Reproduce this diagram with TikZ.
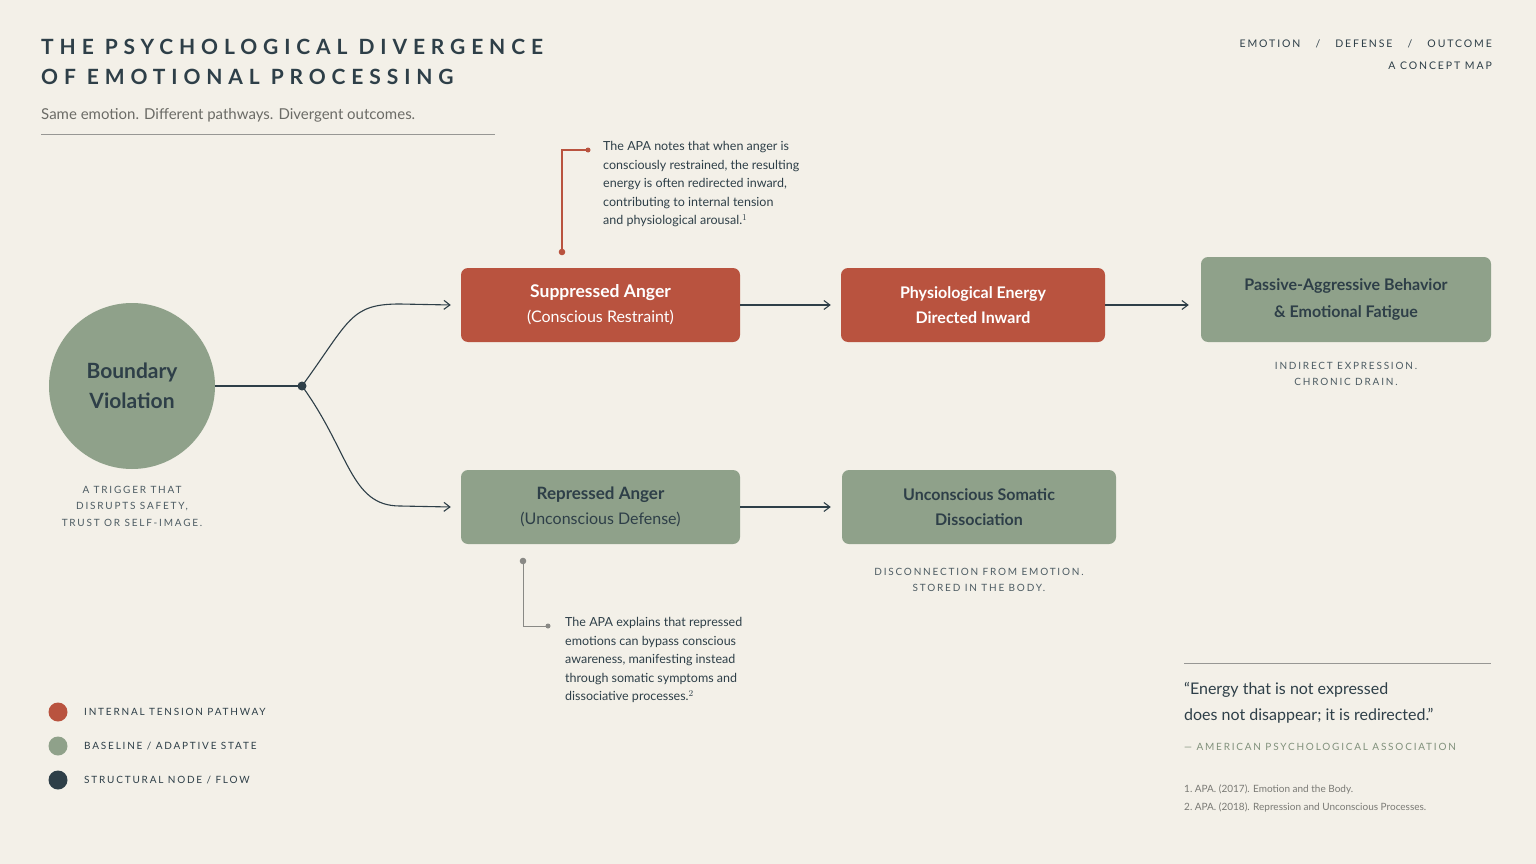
\documentclass[tikz,border=0pt]{standalone}
\usepackage{fontspec}
\setmainfont{Lato}
\newfontfamily\spaced[LetterSpace=28]{Lato}
\newfontfamily\capsp[LetterSpace=18]{Lato}
\usetikzlibrary{arrows.meta}
\definecolor{bg}{HTML}{F3F0E8}
\definecolor{rd}{HTML}{B9533F}
\definecolor{sg}{HTML}{8FA18A}
\definecolor{dk}{HTML}{2E3F48}
\definecolor{gy}{HTML}{6B6B66}
\begin{document}
\begin{tikzpicture}[x=1pt,y=-1pt,
 box/.style={rounded corners=7pt,inner sep=0pt,align=center},
 redbox/.style={box,fill=rd,text=white},
 sgbox/.style={box,fill=sg,text=dk},
 captxt/.style={font=\capsp\fontsize{10}{16.5}\selectfont,text=dk!85,align=center},
 note/.style={font=\fontsize{12.5}{18.6}\selectfont,text=dk,align=left,anchor=north west,inner sep=0pt},
 flow/.style={draw=dk,line width=1.1pt,-{Straight Barb[length=6pt,width=9pt]}},
 leg/.style={font=\capsp\fontsize{10}{12}\selectfont,text=dk,anchor=west,inner sep=0pt}]
\fill[bg] (0,0) rectangle (1536,864);
\useasboundingbox (0,0) rectangle (1536,864);
% title
\node[anchor=west,inner sep=0pt,text=dk,font=\spaced\bfseries\fontsize{21}{30}\selectfont] (t1) at (41,47) {THE PSYCHOLOGICAL DIVERGENCE};
\node[anchor=west,inner sep=0pt,text=dk,font=\spaced\bfseries\fontsize{21}{30}\selectfont] (t2) at (41,77) {OF EMOTIONAL PROCESSING};
\node[anchor=west,inner sep=0pt,text=gy,font=\fontsize{15}{18}\selectfont] (sub) at (41,115) {Same emotion. Different pathways. Divergent outcomes.};
\draw[gy!70,line width=0.8pt] (41,134) -- (495,134);
\node[anchor=east,inner sep=0pt,text=dk,font=\capsp\fontsize{10.5}{12}\selectfont] (tr1) at (1492,44) {EMOTION\quad\ /\quad\ DEFENSE\quad\ /\quad\ OUTCOME};
\node[anchor=east,inner sep=0pt,text=dk,font=\capsp\fontsize{10.5}{12}\selectfont] (tr2) at (1492,66) {A CONCEPT MAP};
% circle
\node[circle,fill=sg,minimum size=166pt,inner sep=0pt,text=dk,align=center,font=\bfseries\fontsize{21}{30}\selectfont] (bv) at (132,386) {Boundary\\Violation};
\node[captxt] (bvc) at (132,506) {A TRIGGER THAT\\DISRUPTS SAFETY,\\TRUST OR SELF-IMAGE.};
\coordinate (j) at (302,386);
\draw[dk,line width=1.1pt] (bv.east) -- (j);
\fill[dk] (j) circle (4.5pt);
% boxes
\node[redbox,minimum width=279pt,minimum height=74pt,font=\fontsize{17.5}{25}\selectfont] (sa) at (600.5,305) {\bfseries Suppressed Anger\\\fontsize{16}{25}\selectfont (Conscious Restraint)};
\node[redbox,minimum width=264pt,minimum height=74pt,font=\bfseries\fontsize{16}{25}\selectfont] (pe) at (973,305) {Physiological Energy\\Directed Inward};
\node[sgbox,minimum width=290pt,minimum height=85pt,font=\bfseries\fontsize{16}{27}\selectfont] (pa) at (1346,299.5) {Passive-Aggressive Behavior\\\& Emotional Fatigue};
\node[captxt] (pac) at (1346,374) {INDIRECT EXPRESSION.\\CHRONIC DRAIN.};
\node[sgbox,minimum width=279pt,minimum height=74pt,font=\fontsize{17}{25}\selectfont] (ra) at (600.5,507) {\bfseries Repressed Anger\\\fontsize{16}{25}\selectfont (Unconscious Defense)};
\node[sgbox,minimum width=274pt,minimum height=74pt,font=\bfseries\fontsize{16}{25}\selectfont] (us) at (979,507) {Unconscious Somatic\\Dissociation};
\node[captxt] (usc) at (979,580) {DISCONNECTION FROM EMOTION.\\STORED IN THE BODY.};
% flows
\draw[flow] (j) .. controls (350,320) and (350,304) .. (400,304) -- ([xshift=-10pt]sa.west);
\draw[flow] (j) .. controls (350,452) and (350,506) .. (400,506) -- ([xshift=-10pt]ra.west);
\draw[flow] (sa.east) -- ([xshift=-10pt]pe.west);
\draw[flow] (pe.east) -- ([xshift=-12pt]pa.west |- pe.east);
\draw[flow] (ra.east) -- ([xshift=-11pt]us.west);
% red callout
\coordinate (rc1) at (562,252); \coordinate (rc2) at (588,150);
\draw[rd,line width=1.1pt] (rc1) |- (rc2);
\fill[rd] (rc1) circle (3.3pt); \fill[rd] (rc2) circle (2.5pt);
\node[note] (rn) at (603,141) {The APA notes that when anger is\\consciously restrained, the resulting\\energy is often redirected inward,\\contributing to internal tension\\and physiological arousal.$^{1}$};
% gray callout
\coordinate (gc1) at (523,561); \coordinate (gc2) at (548,626);
\draw[gy!80,line width=1pt] (gc1) |- (gc2);
\fill[gy!80] (gc1) circle (3.3pt); \fill[gy!80] (gc2) circle (2.5pt);
\node[note] (gn) at (565,617) {The APA explains that repressed\\emotions can bypass conscious\\awareness, manifesting instead\\through somatic symptoms and\\dissociative processes.$^{2}$};
% legend
\fill[rd] (58,712) circle (9.5pt); \node[leg] (l1) at (84,712) {INTERNAL TENSION PATHWAY};
\fill[sg] (58,746) circle (9.5pt); \node[leg] (l2) at (84,746) {BASELINE / ADAPTIVE STATE};
\fill[dk] (58,780) circle (9.5pt); \node[leg] (l3) at (84,780) {STRUCTURAL NODE / FLOW};
% quote
\draw[gy!70,line width=0.8pt] (1184,663) -- (1491,663);
\node[anchor=north west,inner sep=0pt,text=dk,font=\fontsize{16}{26}\selectfont,align=left] (q) at (1184,682) {“Energy that is not expressed\\does not disappear; it is redirected.”};
\node[anchor=west,inner sep=0pt,text=sg!90!black,font=\capsp\fontsize{10}{12}\selectfont] (qa) at (1184,747) {— AMERICAN PSYCHOLOGICAL ASSOCIATION};
\node[anchor=west,inner sep=0pt,text=gy!90,font=\fontsize{10}{12}\selectfont] (r1) at (1184,789) {1.\ APA. (2017). Emotion and the Body.};
\node[anchor=west,inner sep=0pt,text=gy!90,font=\fontsize{10}{12}\selectfont] (r2) at (1184,807) {2.\ APA. (2018). Repression and Unconscious Processes.};
\end{tikzpicture}
\end{document}
